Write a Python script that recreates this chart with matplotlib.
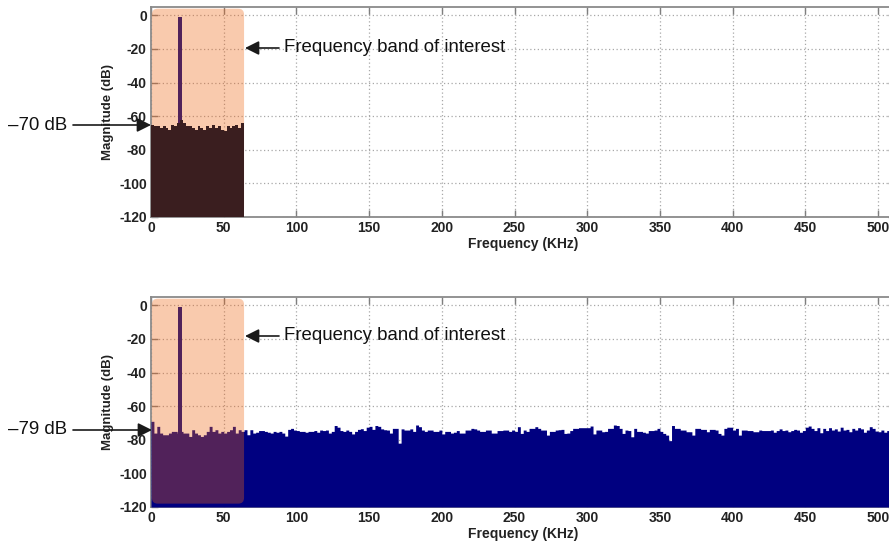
import numpy as np
import matplotlib
matplotlib.use("Agg")
import matplotlib.pyplot as plt
from matplotlib.patches import FancyBboxPatch, FancyArrowPatch

plt.rcParams['font.family'] = ['Liberation Sans', 'DejaVu Sans']

# ---------------- data ----------------
bin_width_khz = 2.0
band_edge_khz = 64.0
tone_freq_khz = 20.0
tone_level_db = -1.0

# top panel: noise only inside 0-64 kHz (dB), 2 kHz bins
top_noise_db = [-65, -66, -66, -67, -66, -67, -68, -65, -66, -64, -62, -64, -66, -66, -67, -68,
                -66, -67, -68, -66, -67, -65, -67, -66, -68, -69, -66, -67, -66, -65, -67, -64]

# bottom panel: noise across 0-512 kHz (dB), 2 kHz bins
bottom_noise_db = [
    # 0-64 kHz
    -69, -76, -72, -76, -77, -77, -76, -75, -75, -76, -75, -76, -76, -78, -74, -76,
    -77, -78, -77, -75, -72, -75, -74, -76, -75, -76, -75, -74, -72, -76, -74, -75,
    # 64-154 kHz
    -74, -77, -74, -76, -75.5, -74.5, -74.5, -75, -75.5, -76, -75, -75.5, -75, -76, -77.8,
    -73.8, -73.2, -74.2, -74.5, -75, -75, -75.5, -75, -75, -74.5, -75.5, -74.2, -74.5, -74.2,
    -76, -75, -71.5, -72.5, -74.5, -75, -74.2, -75, -76.5, -75, -73.8, -73.4, -74.5, -72.5,
    -72, -73.8,
    # 154-244 kHz
    -71.5, -72, -73.5, -74, -74.2, -76, -73.2, -73.2, -82, -73.5, -74.2, -74.2, -73.5, -75,
    -71.2, -72.2, -74.2, -75, -74.2, -74.2, -75, -75, -74.2, -76.5, -75, -75, -76, -75.5,
    -74.5, -76, -76, -74.2, -74.2, -73.2, -73.5, -74.2, -75, -75, -74.2, -74.2, -76, -76,
    -74.5, -74.5, -74.2,
    # 244-334 kHz
    -74.2, -75, -74.2, -75, -72.2, -76.2, -74.2, -75, -73.2, -73.2, -72.2, -73.2, -74.2,
    -74.2, -77.2, -75, -75, -74.2, -74, -73.8, -76.2, -76, -74.5, -73.2, -73.2, -72.8, -72.8,
    -72.8, -72.8, -71.8, -76.5, -74.2, -74.2, -75.2, -75, -73.2, -73.2, -71.2, -71.5, -73.2,
    -76.2, -74.2, -74.5, -78.2, -73.2,
    # 334-424 kHz
    -75, -75, -75.5, -76, -74.5, -74.5, -74.2, -73.2, -75, -76.2, -77.2, -80.5, -71.5, -73.2,
    -73.2, -74.2, -74.2, -75.2, -75.2, -77.2, -73.2, -73.2, -73.8, -73.8, -75.2, -73.8, -73.8,
    -74.2, -76.2, -77.2, -73.2, -72.5, -72.5, -74.2, -73.2, -77.2, -74.2, -74.2, -74.5, -74.5,
    -75.2, -75.2, -74.2, -74.5, -74.5,
    # 424-512 kHz
    -74.5, -74.2, -75.5, -74.5, -73.5, -74.5, -74.2, -75.2, -74.5, -73.8, -74.2, -75.5, -74.5,
    -72.5, -71.8, -73.2, -74.5, -72.8, -75.8, -73.2, -74.5, -72.8, -74.2, -73.5, -74.8, -72.5,
    -74.2, -73.8, -75.2, -73.2, -74.2, -72.8, -73.5, -75.5, -74.2, -72.2, -73.2, -74.8, -75.2,
    -74.2, -75.5, -74.5, -74.8, -75,
]

x_ticks = [0, 50, 100, 150, 200, 250, 300, 350, 400, 450, 500]
y_ticks = [0, -20, -40, -60, -80, -100, -120]
xlabel = "Frequency (KHz)"
ylabel = "Magnitude (dB)"
band_label = "Frequency band of interest"
top_floor_label = "\u201370 dB"
bottom_floor_label = "\u201379 dB"

# ---------------- styling ----------------
W, H, DPI = 889, 543, 100
NAVY = '#000080'
BAND_COLOR = '#F06411'
BAND_ALPHA = 0.34
TOP_FILL = '#3a1e1f'
YMIN, YMAX = -120, 5
XMAX = 512

fig = plt.figure(figsize=(W / DPI, H / DPI), dpi=DPI)


def px_axes(left, top, right, bottom):
    return fig.add_axes([left / W, 1 - bottom / H, (right - left) / W, (bottom - top) / H])


ax_top = px_axes(151, 7, 151 + XMAX * 1.454, 217)
ax_bot = px_axes(151, 297, 151 + XMAX * 1.454, 507)


def style_axes(ax):
    ax.set_xlim(0, XMAX)
    ax.set_ylim(YMIN, YMAX)
    ax.set_xticks(x_ticks)
    ax.set_yticks(y_ticks)
    ax.set_xticklabels([str(t) for t in x_ticks], fontsize=10, fontweight='bold', color='#222222')
    ax.set_yticklabels([str(t) for t in y_ticks], fontsize=10, fontweight='bold', color='#222222')
    ax.tick_params(direction='in', top=True, right=True, length=5, width=1.0,
                   color='#7f7f7f', pad=3)
    ax.grid(True, color='#a8a8a8', linestyle=(0, (1, 2)), linewidth=0.9)
    ax.set_axisbelow(True)
    for s in ax.spines.values():
        s.set_color('#8a8a8a')
        s.set_linewidth(1.3)
    ax.set_xlabel(xlabel, fontsize=10, fontweight='bold', labelpad=1, color='#222222')
    ax.set_ylabel(ylabel, fontsize=9.5, fontweight='bold', labelpad=4, color='#222222')


def band_patch(ax):
    # rounded rectangle for the band of interest
    p = FancyBboxPatch((0.6, YMIN + 2), band_edge_khz - 0.6, -YMIN - 2 + 4,
                       boxstyle="round,pad=0,rounding_size=4", mutation_aspect=0.87,
                       facecolor=BAND_COLOR, edgecolor='none', alpha=BAND_ALPHA,
                       zorder=4, transform=ax.transData)
    ax.add_patch(p)


# top panel
f_top = np.arange(len(top_noise_db)) * bin_width_khz
ax_top.fill_between(np.append(f_top, band_edge_khz), np.append(top_noise_db, top_noise_db[-1]),
                    YMIN, step='post', color=TOP_FILL, linewidth=0, zorder=5)
ax_top.bar([tone_freq_khz], [tone_level_db - YMIN], bottom=YMIN, width=2.2,
           color=NAVY, zorder=3)
band_patch(ax_top)
style_axes(ax_top)

# bottom panel
f_bot = np.arange(len(bottom_noise_db)) * bin_width_khz
ax_bot.fill_between(np.append(f_bot, f_bot[-1] + bin_width_khz),
                    np.append(bottom_noise_db, bottom_noise_db[-1]),
                    YMIN, step='post', color=NAVY, linewidth=0, zorder=3)
ax_bot.bar([tone_freq_khz], [tone_level_db - YMIN], bottom=YMIN, width=2.2,
           color=NAVY, zorder=3)
band_patch(ax_bot)
style_axes(ax_bot)

# annotations
arrow = dict(arrowstyle='-|>', color='#1a1a1a', lw=1.2, mutation_scale=21,
             shrinkA=0, shrinkB=0)


def annotate_arrow(x_tip, x_tail, y_px):
    fig.add_artist(FancyArrowPatch(
        (x_tail / W, 1 - y_px / H), (x_tip / W, 1 - y_px / H),
        transform=fig.transFigure, **arrow))


# -70 dB arrow (top), -79 dB arrow (bottom)
annotate_arrow(151, 73, 125)
fig.text(8 / W, 1 - 125 / H, top_floor_label, fontsize=13.4, ha='left', va='center', color='#111111')
annotate_arrow(152, 73, 430)
fig.text(8 / W, 1 - 430 / H, bottom_floor_label, fontsize=13.4, ha='left', va='center', color='#111111')

# band arrows
annotate_arrow(245, 279, 48)
fig.text(284 / W, 1 - 48 / H, band_label, fontsize=13.4, ha='left', va='center', color='#111111')
annotate_arrow(245, 279, 336)
fig.text(284 / W, 1 - 336 / H, band_label, fontsize=13.4, ha='left', va='center', color='#111111')

fig.savefig('out.png', dpi=DPI)
